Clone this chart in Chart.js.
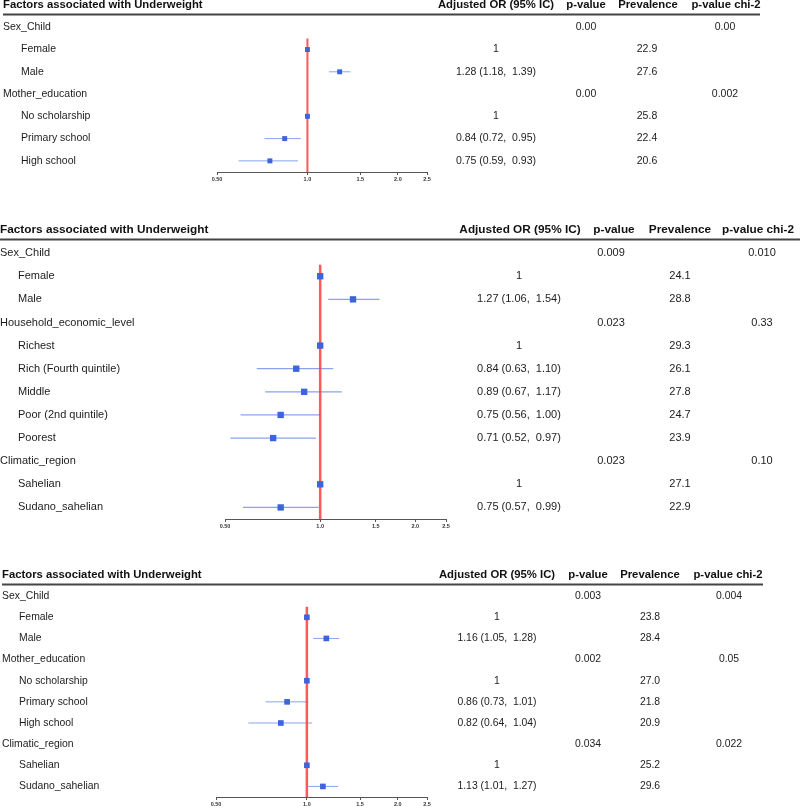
<!DOCTYPE html>
<html>
<head>
<meta charset="utf-8">
<script src="https://cdn.jsdelivr.net/npm/chart.js@4.4.1/dist/chart.umd.min.js"></script>
<style>
  html, body { margin: 0; padding: 0; background: #fff; }
  #wrap { position: relative; width: 800px; height: 809px; overflow: hidden; }
  canvas { position: absolute; left: 0; }
</style>
</head>
<body>
<div id="wrap">
  <canvas id="panel1" width="800" height="195" style="top:0px"></canvas>
  <canvas id="panel2" width="800" height="330" style="top:215px"></canvas>
  <canvas id="panel3" width="800" height="244" style="top:565px"></canvas>
</div>
<script>
// shared axis + header text
const xTicks = [0.5, 1, 1.5, 2, 2.5];
const xTickLabels = ['0.50', '1.0', '1.5', '2.0', '2.5'];
const headerTitle = 'Factors associated with Underweight';
const columnTitles = ['Adjusted OR (95% IC)', 'p-value', 'Prevalence', 'p-value chi-2'];

// panel 1 (rows with null OR are group headings)
const p1Labels = ['Sex_Child', 'Female', 'Male', 'Mother_education', 'No scholarship', 'Primary school', 'High school'];
const p1OR = [null, 1, 1.28, null, 1, 0.84, 0.75];
const p1Lower = [null, null, 1.18, null, null, 0.72, 0.59];
const p1Upper = [null, null, 1.39, null, null, 0.95, 0.93];
const p1PValue = ['0.00', '', '', '0.00', '', '', ''];
const p1Prevalence = [null, 22.9, 27.6, null, 25.8, 22.4, 20.6];
const p1Chi2 = ['0.00', '', '', '0.002', '', '', ''];

// panel 2
const p2Labels = ['Sex_Child', 'Female', 'Male', 'Household_economic_level', 'Richest', 'Rich (Fourth quintile)',
  'Middle', 'Poor (2nd quintile)', 'Poorest', 'Climatic_region', 'Sahelian', 'Sudano_sahelian'];
const p2OR = [null, 1, 1.27, null, 1, 0.84, 0.89, 0.75, 0.71, null, 1, 0.75];
const p2Lower = [null, null, 1.06, null, null, 0.63, 0.67, 0.56, 0.52, null, null, 0.57];
const p2Upper = [null, null, 1.54, null, null, 1.10, 1.17, 1.00, 0.97, null, null, 0.99];
const p2PValue = ['0.009', '', '', '0.023', '', '', '', '', '', '0.023', '', ''];
const p2Prevalence = [null, 24.1, 28.8, null, 29.3, 26.1, 27.8, 24.7, 23.9, null, 27.1, 22.9];
const p2Chi2 = ['0.010', '', '', '0.33', '', '', '', '', '', '0.10', '', ''];

// panel 3
const p3Labels = ['Sex_Child', 'Female', 'Male', 'Mother_education', 'No scholarship', 'Primary school',
  'High school', 'Climatic_region', 'Sahelian', 'Sudano_sahelian'];
const p3OR = [null, 1, 1.16, null, 1, 0.86, 0.82, null, 1, 1.13];
const p3Lower = [null, null, 1.05, null, null, 0.73, 0.64, null, null, 1.01];
const p3Upper = [null, null, 1.28, null, null, 1.01, 1.04, null, null, 1.27];
const p3PValue = ['0.003', '', '', '0.002', '', '', '', '0.034', '', ''];
const p3Prevalence = [null, 23.8, 28.4, null, 27.0, 21.8, 20.9, null, 25.2, 29.6];
const p3Chi2 = ['0.004', '', '', '0.05', '', '', '', '0.022', '', ''];

const FONT = '"Liberation Sans", Arial, Helvetica, sans-serif';

function buildPanel(id, labels, or, lower, upper, pval, prev, chi2, lay) {
    const n = labels.length;
    const squares = [];
    const whiskers = [];
    labels.forEach((_, i) => {
        if (or[i] == null) return;
        squares.push({ x: or[i], y: i });
        if (lower[i] != null) {
            whiskers.push({ x: lower[i], y: i }, { x: upper[i], y: i }, { x: null, y: null });
        }
    });

    const orText = (i) => {
        if (or[i] == null) return '';
        if (lower[i] == null) return String(or[i]);
        return `${or[i].toFixed(2)} (${lower[i].toFixed(2)},  ${upper[i].toFixed(2)})`;
    };

    const tablePlugin = {
        id: 'forestTable',
        afterDraw(chart) {
            const ctx = chart.ctx;
            const y = chart.scales.y;
            ctx.save();
            ctx.textBaseline = 'middle';

            // header line
            const hy = y.getPixelForValue(-1);
            ctx.fillStyle = '#111';
            ctx.font = `bold ${lay.titleSize}px ${FONT}`;
            ctx.textAlign = 'left';
            ctx.fillText(headerTitle, lay.groupX, hy);
            ctx.textAlign = 'center';
            columnTitles.forEach((t, j) => ctx.fillText(t, lay.headX[j], hy));

            ctx.strokeStyle = '#444';
            ctx.lineWidth = 2;
            ctx.beginPath();
            ctx.moveTo(lay.groupX, hy + 9.5);
            ctx.lineTo(lay.ruleEnd, hy + 9.5);
            ctx.stroke();

            // rows
            ctx.fillStyle = '#1c1c1c';
            ctx.font = `${lay.rowSize}px ${FONT}`;
            labels.forEach((lab, i) => {
                const py = y.getPixelForValue(i);
                ctx.textAlign = 'left';
                ctx.fillText(lab, or[i] == null ? lay.groupX : lay.subX, py);
                ctx.textAlign = 'center';
                const cells = [orText(i), pval[i], prev[i] == null ? '' : prev[i].toFixed(1), chi2[i]];
                cells.forEach((c, j) => { if (c) ctx.fillText(c, lay.colX[j], py); });
            });
            ctx.restore();
        }
    };

    return new Chart(document.getElementById(id), {
        type: 'scatter',
        data: {
            datasets: [
                {
                    data: squares,
                    pointStyle: 'rect',
                    pointRadius: lay.boxRadius,
                    backgroundColor: '#3d63dd',
                    borderColor: '#3d63dd',
                    borderWidth: 0,
                },
                {
                    data: [{ x: 1, y: 0.5 }, { x: 1, y: n - 0.5 }],
                    showLine: true,
                    pointRadius: 0,
                    borderColor: 'rgba(255, 60, 60, 0.85)',
                    borderWidth: lay.refWidth,
                },
                {
                    data: whiskers,
                    showLine: true,
                    spanGaps: false,
                    pointRadius: 0,
                    borderColor: 'rgba(85, 125, 235, 0.7)',
                    borderWidth: lay.ciWidth,
                },
            ],
        },
        options: {
            responsive: false,
            animation: false,
            devicePixelRatio: 1,
            layout: {
                padding: { top: lay.padTop, bottom: lay.padBottom, left: lay.padLeft, right: lay.padRight },
            },
            plugins: { legend: { display: false }, tooltip: { enabled: false } },
            scales: {
                x: {
                    type: 'logarithmic',
                    min: 0.5,
                    max: 2.5,
                    afterBuildTicks: (scale) => { scale.ticks = xTicks.map((v) => ({ value: v })); },
                    afterFit: (scale) => { scale.height = 12; },
                    ticks: {
                        autoSkip: false,
                        maxRotation: 0,
                        padding: 1,
                        color: '#333',
                        font: { size: 5.5, weight: 'bold', family: FONT },
                        callback: (v, i) => xTickLabels[i],
                    },
                    grid: { display: true, drawOnChartArea: false, drawTicks: true, tickLength: 3, color: '#555' },
                    border: { display: true, color: '#555', width: 1 },
                },
                y: {
                    type: 'linear',
                    display: false,
                    reverse: true,
                    min: -1,
                    max: n - 0.5,
                },
            },
        },
        plugins: [tablePlugin],
    });
}

buildPanel('panel1', p1Labels, p1OR, p1Lower, p1Upper, p1PValue, p1Prevalence, p1Chi2, {
    padTop: 5, padBottom: 11, padLeft: 217, padRight: 373,
    titleSize: 11.3, rowSize: 10.5, groupX: 3, subX: 21,
    headX: [496, 586, 648, 726], colX: [496, 586, 647, 725], ruleEnd: 760,
    boxRadius: 3.5, refWidth: 2, ciWidth: 1,
});

buildPanel('panel2', p2Labels, p2OR, p2Lower, p2Upper, p2PValue, p2Prevalence, p2Chi2, {
    padTop: 15, padBottom: 14, padLeft: 225, padRight: 354,
    titleSize: 11.8, rowSize: 11, groupX: 0, subX: 18,
    headX: [520, 614, 680, 758], colX: [519, 611, 680, 762], ruleEnd: 800,
    boxRadius: 4.5, refWidth: 2.5, ciWidth: 1.3,
});

buildPanel('panel3', p3Labels, p3OR, p3Lower, p3Upper, p3PValue, p3Prevalence, p3Chi2, {
    padTop: 10, padBottom: 0, padLeft: 216, padRight: 373,
    titleSize: 11.3, rowSize: 10.4, groupX: 2, subX: 19,
    headX: [497, 588, 650, 728], colX: [497, 588, 650, 729], ruleEnd: 763,
    boxRadius: 4, refWidth: 2.5, ciWidth: 1,
});
</script>
</body>
</html>
